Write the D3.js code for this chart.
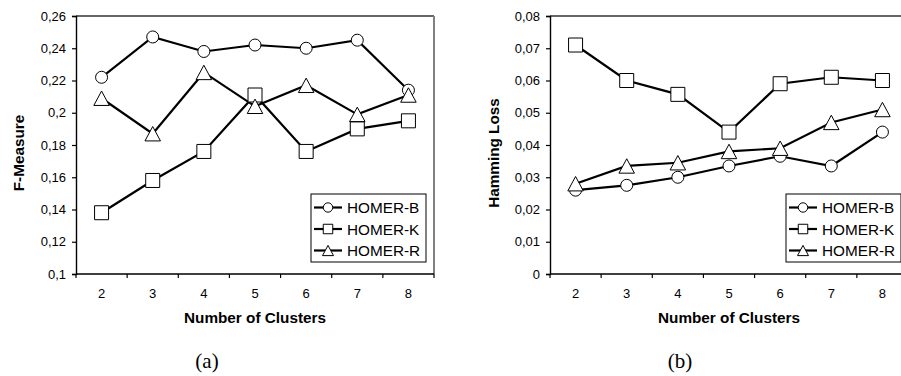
<!DOCTYPE html>
<html>
<head>
<meta charset="utf-8">
<script src="https://cdn.jsdelivr.net/npm/d3@7"></script>
<style>
  html, body { margin: 0; padding: 0; background: #fff; }
  svg { display: block; }
</style>
</head>
<body>
<svg id="chart" width="901" height="376"></svg>
<script>
// Cluster counts on the x axis
const clusters = ["2", "3", "4", "5", "6", "7", "8"];
const seriesNames = ["HOMER-B", "HOMER-K", "HOMER-R"];

// (a) F-Measure
const fmB = [0.222, 0.247, 0.238, 0.242, 0.240, 0.245, 0.214];
const fmK = [0.138, 0.158, 0.176, 0.211, 0.176, 0.190, 0.195];
const fmR = [0.209, 0.187, 0.225, 0.204, 0.217, 0.199, 0.211];
const fmTicks = [0.1, 0.12, 0.14, 0.16, 0.18, 0.2, 0.22, 0.24, 0.26];
const fmTickLabels = ["0,1", "0,12", "0,14", "0,16", "0,18", "0,2", "0,22", "0,24", "0,26"];

// (b) Hamming Loss
const hlB = [0.026, 0.0275, 0.030, 0.0335, 0.0365, 0.0335, 0.044];
const hlK = [0.071, 0.060, 0.0557, 0.044, 0.059, 0.061, 0.060];
const hlR = [0.028, 0.0335, 0.0345, 0.038, 0.039, 0.047, 0.051];
const hlTicks = [0, 0.01, 0.02, 0.03, 0.04, 0.05, 0.06, 0.07, 0.08];
const hlTickLabels = ["0", "0,01", "0,02", "0,03", "0,04", "0,05", "0,06", "0,07", "0,08"];

const svg = d3.select("#chart");
const SANS = "'Liberation Sans', Arial, sans-serif";

// Triangle centred on its bounding box; size is treated as the side length squared
const boxTriangle = {
  draw(context, size) {
    const w = Math.sqrt(size), h = w * 0.93;
    context.moveTo(0, -h / 2);
    context.lineTo(w / 2, h / 2);
    context.lineTo(-w / 2, h / 2);
    context.closePath();
  }
};

const shapes = {
  "HOMER-B": d3.symbolCircle,
  "HOMER-K": d3.symbolSquare,
  "HOMER-R": boxTriangle
};
// symbol sizes for plot markers and legend markers
const plotArea = { "HOMER-B": Math.PI * 6 * 6, "HOMER-K": 14 * 14, "HOMER-R": 15.5 * 15.5 };
const legendArea = { "HOMER-B": Math.PI * 4.7 * 4.7, "HOMER-K": 9.5 * 9.5, "HOMER-R": 11 * 11 };

function drawPanel(opt) {
  const g = svg.append("g");
  const x = d3.scaleBand().domain(clusters).range([opt.left, opt.left + 358]).paddingInner(0).paddingOuter(0);
  const y = d3.scaleLinear().domain(opt.domain).range([274, 16]);
  const cx = c => x(c) + x.bandwidth() / 2;

  // plot frame: top and right edges
  g.append("line").attr("x1", opt.left).attr("x2", opt.left + 358)
    .attr("y1", 16).attr("y2", 16).attr("stroke", "#333").attr("stroke-width", 1.5);
  g.append("line").attr("x1", opt.left + 358).attr("x2", opt.left + 358)
    .attr("y1", 16).attr("y2", 274).attr("stroke", "#808080").attr("stroke-width", 2);

  // y axis
  const yAxis = d3.axisLeft(y).tickValues(opt.ticks).tickSize(4).tickPadding(6)
    .tickFormat((d, i) => opt.tickLabels[i]);
  const ya = g.append("g").attr("transform", `translate(${opt.left},0)`).call(yAxis);
  ya.select(".domain").attr("stroke", "#000").attr("stroke-width", 1.4);
  ya.selectAll(".tick line").attr("stroke", "#000").attr("stroke-width", 1.2);
  ya.selectAll(".tick text").attr("font-family", SANS).attr("font-size", 13).attr("fill", "#000");

  // x axis: tick marks on category boundaries, labels at centres
  const xa = g.append("g").attr("transform", "translate(0,274)");
  xa.append("line").attr("x1", opt.left).attr("x2", opt.left + 358)
    .attr("stroke", "#000").attr("stroke-width", 1.4);
  const bounds = clusters.map(c => x(c)).concat([x.range()[1]]);
  xa.selectAll("line.tk").data(bounds).join("line").attr("class", "tk")
    .attr("x1", d => d).attr("x2", d => d).attr("y1", 0).attr("y2", 4)
    .attr("stroke", "#000").attr("stroke-width", 1.2);
  xa.selectAll("text").data(clusters).join("text")
    .attr("x", d => cx(d)).attr("y", 23.5).attr("text-anchor", "middle")
    .attr("font-family", SANS).attr("font-size", 13).text(d => d);

  // axis titles
  g.append("text").attr("x", opt.left + 179).attr("y", 323).attr("text-anchor", "middle")
    .attr("font-family", SANS).attr("font-weight", "bold").attr("font-size", 15.3)
    .text("Number of Clusters");
  g.append("text").attr("transform", `translate(${opt.ytitleX},153) rotate(-90)`)
    .attr("text-anchor", "middle").attr("dy", "0.35em")
    .attr("font-family", SANS).attr("font-weight", "bold").attr("font-size", 15.3)
    .text(opt.ytitle);

  // series lines then markers
  const line = d3.line().x((d, i) => cx(clusters[i])).y(d => y(d));
  opt.series.forEach(vals => {
    g.append("path").datum(vals).attr("d", line)
      .attr("fill", "none").attr("stroke", "#000").attr("stroke-width", 2.2);
  });
  opt.series.forEach((vals, k) => {
    const name = seriesNames[k];
    const sym = d3.symbol().type(shapes[name]).size(plotArea[name]);
    g.selectAll(null).data(vals).join("path")
      .attr("d", sym)
      .attr("transform", (d, i) => `translate(${cx(clusters[i])},${y(d)})`)
      .attr("fill", "#fff").attr("stroke", "#000").attr("stroke-width", 1);
  });

  // legend
  const lx = opt.legendX, ly = 194;
  const lg = g.append("g");
  lg.append("rect").attr("x", lx).attr("y", ly).attr("width", 115).attr("height", 68)
    .attr("fill", "#fff").attr("stroke", "#000").attr("stroke-width", 1);
  seriesNames.forEach((name, k) => {
    const ry = ly + 13.5 + k * 21.5;
    lg.append("line").attr("x1", lx + 3).attr("x2", lx + 31).attr("y1", ry).attr("y2", ry)
      .attr("stroke", "#000").attr("stroke-width", 2.2);
    lg.append("path").attr("d", d3.symbol().type(shapes[name]).size(legendArea[name]))
      .attr("transform", `translate(${lx + 17},${ry})`)
      .attr("fill", "#fff").attr("stroke", "#000").attr("stroke-width", 1);
    lg.append("text").attr("x", lx + 36).attr("y", ry).attr("dy", "0.36em")
      .attr("font-family", SANS).attr("font-size", 15.3).text(name);
  });

  // panel caption
  g.append("text").attr("x", opt.captionX).attr("y", 368).attr("text-anchor", "middle")
    .attr("font-family", "'Liberation Serif', 'DejaVu Serif', serif").attr("font-size", 21)
    .text(opt.caption);
}

drawPanel({
  left: 76, domain: [0.1, 0.26], ticks: fmTicks, tickLabels: fmTickLabels,
  series: [fmB, fmK, fmR], ytitle: "F-Measure", ytitleX: 19,
  legendX: 311, caption: "(a)", captionX: 207
});
drawPanel({
  left: 550, domain: [0, 0.08], ticks: hlTicks, tickLabels: hlTickLabels,
  series: [hlB, hlK, hlR], ytitle: "Hamming Loss", ytitleX: 494,
  legendX: 786, caption: "(b)", captionX: 680
});
</script>
</body>
</html>
